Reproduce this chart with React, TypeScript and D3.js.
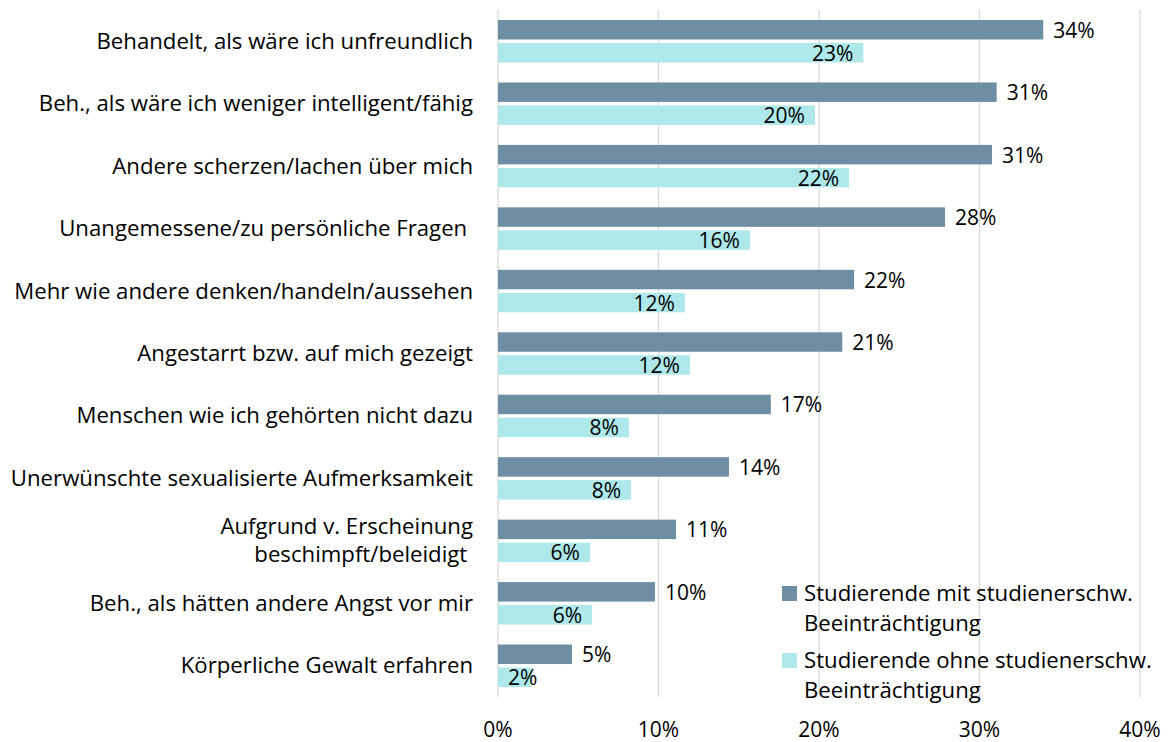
import React from "react";
import * as d3 from "d3";

const categories = [
  "Behandelt, als wäre ich unfreundlich",
  "Beh., als wäre ich weniger intelligent/fähig",
  "Andere scherzen/lachen über mich",
  "Unangemessene/zu persönliche Fragen ",
  "Mehr wie andere denken/handeln/aussehen",
  "Angestarrt bzw. auf mich gezeigt",
  "Menschen wie ich gehörten nicht dazu",
  "Unerwünschte sexualisierte Aufmerksamkeit",
  "Aufgrund v. Erscheinung\nbeschimpft/beleidigt ",
  "Beh., als hätten andere Angst vor mir",
  "Körperliche Gewalt erfahren",
];

const mitValues = [33.97, 31.07, 30.78, 27.85, 22.18, 21.45, 17.0, 14.39, 11.09, 9.78, 4.61];
const ohneValues = [22.76, 19.75, 21.87, 15.7, 11.65, 11.96, 8.16, 8.29, 5.73, 5.86, 2.1];

const seriesNames = [
  "Studierende mit studienerschw.\nBeeinträchtigung",
  "Studierende ohne studienerschw.\nBeeinträchtigung",
];
const seriesColors = ["#6E8FA3", "#AEE8EB"];
const xTicks = [0, 10, 20, 30, 40];

const W = 1170;
const H = 742;
const FONT = "'Open Sans', Lato, sans-serif";
const FS = 21;
const FS_CAT = 22.2;

export default function App() {
  const x = d3.scaleLinear().domain([0, 40]).range([498, 1140]);
  const y = d3
    .scaleBand<string>()
    .domain(categories)
    .range([10, 697])
    .paddingInner(0.32)
    .paddingOuter(0.16);
  const sub = d3
    .scaleBand<string>()
    .domain(["mit", "ohne"])
    .range([0, y.bandwidth()])
    .paddingInner(0.152);

  const approxW = (s: string) => s.length * FS * 0.6;

  return (
    <svg
      width={W}
      height={H}
      style={{ position: "absolute", left: 0, top: 0, fontFamily: FONT }}
    >
      <rect x={0} y={0} width={W} height={H} fill="#fff" />
      {xTicks.map((t) => (
        <line
          key={t}
          x1={x(t)}
          x2={x(t)}
          y1={10}
          y2={697}
          stroke="#D9D9D9"
          strokeWidth={1.3}
        />
      ))}
      {xTicks.map((t) => (
        <text
          key={"t" + t}
          x={x(t)}
          y={729}
          textAnchor="middle"
          dominantBaseline="central"
          fontSize={FS}
          fill="#000"
        >
          {t + "%"}
        </text>
      ))}
      {categories.map((c, i) => {
        const y0 = y(c)!;
        const yc = y0 + y.bandwidth() / 2 - 1;
        const lines = c.split("\n");
        const lh = 28;
        return (
          <g key={c}>
            {lines.map((ln, j) => (
              <text
                key={j}
                x={473}
                y={yc + (j - (lines.length - 1) / 2) * lh}
                textAnchor="end"
                dominantBaseline="central"
                fontSize={FS_CAT}
                fill="#000"
                style={{ whiteSpace: "pre" }}
              >
                {ln}
              </text>
            ))}
            <rect
              x={x(0)}
              y={y0 + sub("mit")!}
              width={x(mitValues[i]) - x(0)}
              height={sub.bandwidth()}
              fill={seriesColors[0]}
            />
            <rect
              x={x(0)}
              y={y0 + sub("ohne")!}
              width={x(ohneValues[i]) - x(0)}
              height={sub.bandwidth()}
              fill={seriesColors[1]}
            />
            <text
              x={x(mitValues[i]) + 10}
              y={y0 + sub("mit")! + sub.bandwidth() / 2}
              dominantBaseline="central"
              fontSize={FS}
              fill="#000"
            >
              {Math.round(mitValues[i]) + "%"}
            </text>
            {(() => {
              const lbl = Math.round(ohneValues[i]) + "%";
              const endX = x(ohneValues[i]) - 10;
              const fits = endX - approxW(lbl) >= x(0) + 10;
              return (
                <text
                  x={fits ? endX : x(0) + 10}
                  y={y0 + sub("ohne")! + sub.bandwidth() / 2}
                  textAnchor={fits ? "end" : "start"}
                  dominantBaseline="central"
                  fontSize={FS}
                  fill="#000"
                >
                  {lbl}
                </text>
              );
            })()}
          </g>
        );
      })}
      {seriesNames.map((s, i) => {
        const top = 586 + i * 67;
        const lines = s.split("\n");
        return (
          <g key={s}>
            <rect x={782} y={top} width={15} height={15} fill={seriesColors[i]} />
            {lines.map((ln, j) => (
              <text
                key={j}
                x={804}
                y={top + 6.5 + j * 30}
                dominantBaseline="central"
                fontSize={FS_CAT}
                fill="#000"
              >
                {ln}
              </text>
            ))}
          </g>
        );
      })}
    </svg>
  );
}
